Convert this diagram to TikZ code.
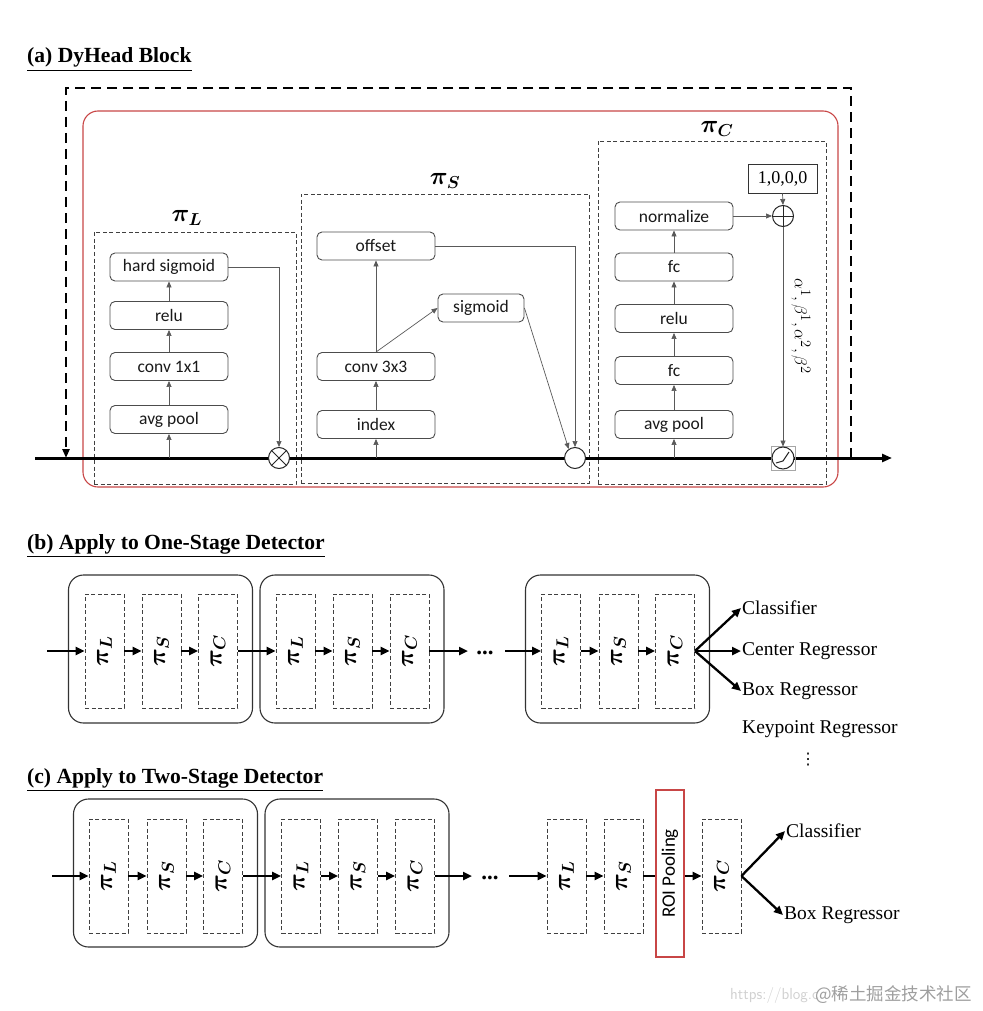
\documentclass[tikz,border=0pt]{standalone}
\usepackage{amsmath}
\usepackage{fontspec}
\setmainfont{Liberation Serif}
\newfontfamily\calfont{Carlito}
\newfontfamily\cjkfont{Noto Sans CJK SC}
\newfontfamily\djvfont{DejaVu Sans}
\usetikzlibrary{arrows.meta}
\definecolor{redline}{RGB}{200,70,70}
\tikzset{
  blk/.style={draw=black!70, line width=0.9, rounded corners=5, minimum width=118, minimum height=28, inner sep=0, font=\calfont\fontsize{17.5}{19}\selectfont, text=black!90},
  dbox/.style={draw=black!75, dash pattern=on 4 off 2.5, line width=0.9, inner sep=0},
  tarr/.style={draw=black!65, line width=0.7, -{Triangle[length=6,width=5]}},
  mainl/.style={line width=3},
  opcirc/.style={circle, draw=black!85, fill=white, line width=1, minimum size=21, inner sep=0},
  pilab/.style={font=\fontsize{24}{26}\selectfont},
  rpilab/.style={font=\fontsize{23}{26}\selectfont, rotate=90},
  stage/.style={draw=black!80, line width=1.1, rounded corners=15, minimum width=184, minimum height=148, inner sep=0},
  sbox/.style={dbox, minimum width=39, minimum height=114},
  barr/.style={line width=2.3, -{Triangle[length=9,width=8]}},
  bline/.style={line width=2.3},
  serif/.style={font=\fontsize{19.5}{22}\selectfont, inner sep=1},
  ttl/.style={font=\bfseries\fontsize{21.6}{24}\selectfont, anchor=base west, inner sep=0},
  dots/.style={font=\bfseries\fontsize{23}{24}\selectfont, inner sep=0},
}
\begin{document}
\begin{tikzpicture}[x=1pt,y=-1pt]
\useasboundingbox (0,0) rectangle (982,1011);

% ---------------- (a) ----------------
\node[ttl] (ta) at (27,63) {\underline{(a) DyHead Block}};

\node[draw=redline, line width=1.1, rounded corners=15, minimum width=755, minimum height=376, inner sep=0] (red) at (460.5,299) {};

\node[dbox, minimum width=202, minimum height=252] (pL) at (195,358) {};
\node[dbox, minimum width=288, minimum height=289] (pS) at (445,338.5) {};
\node[dbox, minimum width=228, minimum height=343] (pC) at (712,312.5) {};

\node[pilab] (labL) at (187,218) {$\boldsymbol{\pi_L}$};
\node[pilab] (labS) at (445,181) {$\boldsymbol{\pi_S}$};
\node[pilab] (labC) at (717,129) {$\boldsymbol{\pi_C}$};

% main line
\coordinate (in) at (35,458);
\coordinate (out) at (892,458);
\draw[mainl, -{Triangle[length=10,width=8]}] (in) -- (out);

% outer dashed residual
\coordinate (od0) at (851,458);
\coordinate (od1) at (851,88);
\coordinate (od2) at (66,88);
\coordinate (od3) at (66,458);
\draw[line width=2.6, dash pattern=on 10 off 6, -{Triangle[length=9,width=7]}] (od0) -- (od1) -- (od2) -- (od3);

% pi_L blocks
\node[blk] (hsig) at (169,267) {hard sigmoid};
\node[blk] (reluL) at (169,315.5) {relu};
\node[blk] (convL) at (169,366.5) {conv 1x1};
\node[blk] (avgL) at (169,419.5) {avg pool};
\node[opcirc] (mul) at (279,458) {};
\draw[line width=1, black!85] (mul.north west) -- (mul.south east) (mul.north east) -- (mul.south west);
\draw[tarr] (avgL.south |- in) -- (avgL.south);
\draw[tarr] (avgL.north) -- (convL.south);
\draw[tarr] (convL.north) -- (reluL.south);
\draw[tarr] (reluL.north) -- (hsig.south);
\draw[tarr] (hsig.east) -- (mul.north |- hsig.east) -- (mul.north);

% pi_S blocks
\node[blk] (offs) at (376,246) {offset};
\node[blk, minimum width=86] (sigm) at (481,308) {sigmoid};
\node[blk] (conv3) at (376,366.5) {conv 3x3};
\node[blk] (idx) at (376,424.5) {index};
\node[opcirc] (sc) at (575,458) {};
\draw[tarr] (idx.south |- in) -- (idx.south);
\draw[tarr] (idx.north) -- (conv3.south);
\draw[tarr] (conv3.north) -- (offs.south);
\draw[tarr] (conv3.north) -- (sigm.west);
\draw[tarr] (offs.east) -- (sc.north |- offs.east) -- (sc.north);
\draw[tarr] (sigm.east) -- (sc.125);

% pi_C blocks
\node[blk] (norm) at (674,216) {normalize};
\node[blk] (fc2) at (674,267) {fc};
\node[blk] (reluC) at (674,318.5) {relu};
\node[blk] (fc1) at (674,370.5) {fc};
\node[blk] (avgC) at (674,424.5) {avg pool};
\node[draw=black!80, line width=1, minimum width=69, minimum height=28, inner sep=0, font=\fontsize{18}{20}\selectfont] (one) at (782.5,179) {1,0,0,0};
\node[opcirc] (plus) at (783,216) {};
\draw[line width=1, black!85] (plus.north) -- (plus.south) (plus.west) -- (plus.east);
\node[draw=black!35, line width=0.5, minimum size=24, inner sep=0] (actbox) at (783,458) {};
\node[opcirc, minimum size=22] (act) at (783,458) {};
\draw[line width=1, black!85] ([shift={(-7,5)}]act.center) -- ([shift={(0,3)}]act.center) -- ([shift={(6,-6)}]act.center);
\draw[tarr] (avgC.south |- in) -- (avgC.south);
\draw[tarr] (avgC.north) -- (fc1.south);
\draw[tarr] (fc1.north) -- (reluC.south);
\draw[tarr] (reluC.north) -- (fc2.south);
\draw[tarr] (fc2.north) -- (norm.south);
\draw[tarr] (norm.east) -- (plus.west);
\draw[tarr] (one.south) -- (plus.north);
\draw[tarr] (plus.south) -- (act.north);
\node[rotate=-90, font=\fontsize{19}{21}\selectfont] (alab) at (801,326) {$\alpha^1,\beta^1,\alpha^2,\beta^2$};

% ---------------- (b) ----------------
\node[ttl] (tb) at (27,549) {\underline{(b) Apply to One-Stage Detector}};
\node[stage] (b1) at (160.5,649) {};
\node[stage] (b2) at (352,649) {};
\node[stage] (b3) at (617.5,649) {};
\foreach \n/\x in {bL1/104.5, bS1/161.5, bC1/218, bL2/295.5, bS2/352.5, bC2/409.5, bL3/561, bS3/618.5, bC3/675}
  \node[sbox] (\n) at (\x,651) {};
\foreach \a in {1,2,3}{
  \node[rpilab] at (bL\a) {$\boldsymbol{\pi_L}$};
  \node[rpilab] at (bS\a) {$\boldsymbol{\pi_S}$};
  \node[rpilab] at (bC\a) {$\boldsymbol{\pi_C}$};
}
\coordinate (bin) at (47,651);
\coordinate (bmid1) at (468,651);
\coordinate (bmid2) at (505,651);
\node[dots] (bdots) at (485,653) {...};
\draw[barr] (bin) -- (bL1.west);
\foreach \a in {1,2,3}{
  \draw[barr] (bL\a.east) -- (bS\a.west);
  \draw[barr] (bS\a.east) -- (bC\a.west);
}
\draw[barr] (bC1.east) -- (bL2.west);
\draw[barr] (bC2.east) -- (bmid1);
\draw[barr] (bmid2) -- (bL3.west);
\node[serif, anchor=west] (cls) at (741,608) {Classifier};
\node[serif, anchor=west] (ctr) at (741,651) {Center Regressor};
\node[serif, anchor=west] (boxr) at (741,691) {Box Regressor};
\node[serif, anchor=west] (kpt) at (741,729) {Keypoint Regressor};
\node[font=\djvfont\fontsize{16}{18}\selectfont, inner sep=0] (vd) at (808,760) {⋮};
\draw[barr] (bC3.east) -- (cls.west);
\draw[barr] (bC3.east) -- (ctr.west);
\draw[barr] (bC3.east) -- (boxr.west);

% ---------------- (c) ----------------
\node[ttl] (tc) at (27,783) {\underline{(c) Apply to Two-Stage Detector}};
\node[stage] (c1) at (165.5,873) {};
\node[stage] (c2) at (357,873) {};
\foreach \n/\x in {cL1/108.5, cS1/166.5, cC1/223, cL2/301, cS2/358, cC2/415, cL3/566.5, cS3/623.5, cC3/721.5}
  \node[sbox] (\n) at (\x,876) {};
\foreach \a in {1,2,3}{
  \node[rpilab] at (cL\a) {$\boldsymbol{\pi_L}$};
  \node[rpilab] at (cS\a) {$\boldsymbol{\pi_S}$};
  \node[rpilab] at (cC\a) {$\boldsymbol{\pi_C}$};
}
\node[draw=redline, line width=1.1, minimum width=28, minimum height=167, inner sep=0] (roi) at (670,873.5) {};
\node[rotate=90, font=\calfont\fontsize{19}{21}\selectfont] (roit) at (roi) {ROI Pooling};
\coordinate (cin) at (52,876);
\coordinate (cmid1) at (472,876);
\coordinate (cmid2) at (509,876);
\node[dots] (cdots) at (490,878) {...};
\draw[barr] (cin) -- (cL1.west);
\foreach \a in {1,2}{
  \draw[barr] (cL\a.east) -- (cS\a.west);
  \draw[barr] (cS\a.east) -- (cC\a.west);
}
\draw[barr] (cC1.east) -- (cL2.west);
\draw[barr] (cC2.east) -- (cmid1);
\draw[barr] (cmid2) -- (cL3.west);
\draw[barr] (cL3.east) -- (cS3.west);
\draw[bline] (cS3.east) -- (roi.west |- cS3.east);
\draw[barr] (roi.east |- cC3.west) -- (cC3.west);
\node[serif, anchor=west] (cls2) at (785,831) {Classifier};
\node[serif, anchor=west] (box2) at (783,915) {Box Regressor};
\draw[barr] (cC3.east) -- (cls2.west);
\draw[barr] (cC3.east) -- (box2.west);

% watermark
\node[anchor=base west, inner sep=0, text=black!18, font=\sffamily\fontsize{16}{18}\selectfont] (wm1) at (730,999) {https://blog.c};
\node[anchor=base west, inner sep=0, text=black!38, font=\cjkfont\fontsize{17.5}{19}\selectfont] (wm2) at (815,1000) {@稀土掘金技术社区};
\end{tikzpicture}
\end{document}
